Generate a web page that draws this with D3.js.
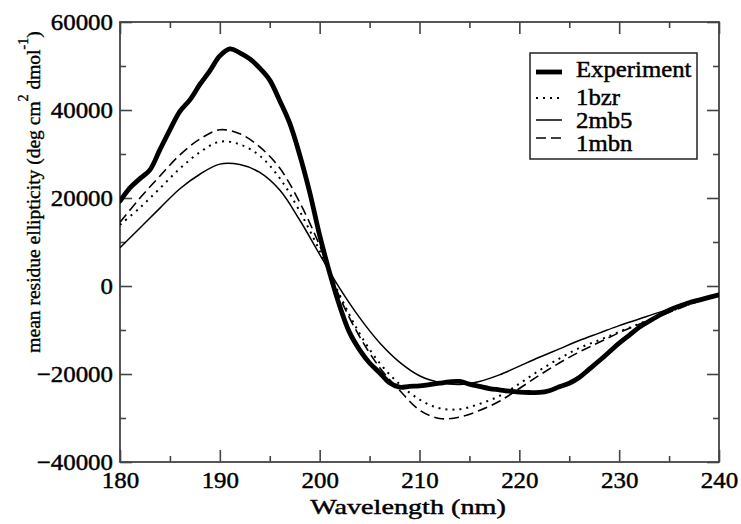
<!DOCTYPE html>
<html>
<head>
<meta charset="utf-8">
<script src="https://cdn.jsdelivr.net/npm/d3@7"></script>
<style>
  body { margin: 0; background: #fff; }
</style>
</head>
<body>
<svg id="chart"></svg>
<script>
// Experimental CD spectrum, 1 nm steps
const expWavelength = [180,181,182,183,184,185,186,187,188,189,190,191,192,193,194,195,196,197,198,199,200,
  201,202,203,204,205,206,207,208,209,210,211,212,213,214,215,216,217,218,219,220,
  221,222,223,224,225,226,227,228,229,230,231,232,233,234,235,236,237,238,239,240];
const expValues = [19300,22300,24400,26400,31000,35500,39700,42300,45800,48900,52300,53900,53000,51600,49500,46800,42100,37000,29800,21300,11500,
  3000,-4500,-10600,-14500,-17500,-19700,-22000,-23000,-22800,-22700,-22400,-22100,-21800,-21700,-22300,-22800,-23300,-23600,-23900,-24100,
  -24200,-24200,-23800,-22900,-22100,-20800,-18900,-17000,-15000,-13000,-11200,-9400,-8000,-6700,-5500,-4600,-3800,-3200,-2600,-2000];

// Calculated spectra, 2 nm steps
const modelWavelength = [180,182,184,186,188,190,192,194,196,198,200,202,204,206,208,210,
  212,214,216,218,220,222,224,226,228,230,232,234,236,238,240];
const bzrValues = [13900,17800,22200,26700,30400,32800,32200,29600,24500,17000,8000,-2000,-10800,-17500,-22300,-25800,
  -27800,-28000,-26800,-25000,-22200,-19200,-16500,-14100,-12300,-10400,-8600,-6800,-5000,-3400,-2000];
const mb5Values = [8700,13200,17700,22100,25400,27700,27600,25800,21800,15000,7200,-500,-7200,-12900,-17300,-20400,
  -21900,-22400,-21700,-20200,-18200,-16200,-14300,-12400,-10700,-9000,-7500,-6000,-4600,-3300,-2000];
const mbnValues = [14500,20000,25000,29800,33400,35500,34600,31600,26800,19000,9200,-2500,-11500,-18500,-23700,-28200,
  -30100,-29800,-28300,-26200,-23300,-20300,-17500,-15000,-12800,-10600,-8700,-6900,-5100,-3400,-2000];

const seriesNames = ["Experiment", "1bzr", "2mb5", "1mbn"];

const xTicks = [180, 190, 200, 210, 220, 230, 240];
const xMinor = [185, 195, 205, 215, 225, 235];
const yTicks = [-40000, -20000, 0, 20000, 40000, 60000];
const yMinor = [-30000, -10000, 10000, 30000, 50000];

const width = 741, height = 524;
const margin = { top: 22, right: 22, bottom: 62, left: 120 };
const plotW = width - margin.left - margin.right;
const plotH = height - margin.top - margin.bottom;
const serif = '"Liberation Serif", "Times New Roman", Times, "DejaVu Serif", serif';

const svg = d3.select("#chart").attr("width", width).attr("height", height)
  .style("font-family", serif);
const g = svg.append("g").attr("transform", `translate(${margin.left},${margin.top})`);

const x = d3.scaleLinear().domain([180, 240]).range([0, plotW]);
const y = d3.scaleLinear().domain([-40000, 60000]).range([plotH, 0]);

// stretch text a bit horizontally and thicken it, like the original
function widen(sel, k) {
  sel.each(function () {
    const len = this.getComputedTextLength();
    this.setAttribute("textLength", len * k);
    this.setAttribute("lengthAdjust", "spacingAndGlyphs");
  });
  sel.attr("stroke", "#000").attr("stroke-width", 0.45);
}

const axisColor = "#444";

function styleAxis(sel) {
  sel.select(".domain").remove();
  sel.selectAll("line").attr("stroke", axisColor).attr("stroke-width", 1.6);
}

// major + minor ticks on all four sides, pointing inward
const bottom = g.append("g").attr("transform", `translate(0,${plotH})`)
  .call(d3.axisBottom(x).tickValues(xTicks).tickSize(-12).tickPadding(9).tickFormat(d3.format("d")));
g.append("g").attr("transform", `translate(0,${plotH})`)
  .call(d3.axisBottom(x).tickValues(xMinor).tickSize(-6).tickFormat("")).call(styleAxis);
g.append("g").call(d3.axisTop(x).tickValues(xTicks).tickSize(-12).tickFormat("")).call(styleAxis);
g.append("g").call(d3.axisTop(x).tickValues(xMinor).tickSize(-6).tickFormat("")).call(styleAxis);

const left = g.append("g")
  .call(d3.axisLeft(y).tickValues(yTicks).tickSize(-12).tickPadding(7).tickFormat(d3.format("d")));
g.append("g").call(d3.axisLeft(y).tickValues(yMinor).tickSize(-6).tickFormat("")).call(styleAxis);
g.append("g").attr("transform", `translate(${plotW},0)`)
  .call(d3.axisRight(y).tickValues(yTicks).tickSize(-12).tickFormat("")).call(styleAxis);
g.append("g").attr("transform", `translate(${plotW},0)`)
  .call(d3.axisRight(y).tickValues(yMinor).tickSize(-6).tickFormat("")).call(styleAxis);

[bottom, left].forEach(a => {
  a.call(styleAxis);
  a.attr("font-family", null).attr("font-size", null);
  a.selectAll("text").style("font-family", serif).style("font-size", "23.5px").attr("fill", "#000");
  widen(a.selectAll("text"), 1.06);
});

// frame
g.append("rect").attr("width", plotW).attr("height", plotH)
  .attr("fill", "none").attr("stroke", axisColor).attr("stroke-width", 1.8);

// curves
const expLine = d3.line()
  .x((d, i) => x(expWavelength[i]))
  .y(d => y(d))
  .curve(d3.curveCatmullRom.alpha(0.5));
const modelLine = d3.line()
  .x((d, i) => x(modelWavelength[i]))
  .y(d => y(d))
  .curve(d3.curveCatmullRom.alpha(0.5));

const styles = {
  "Experiment": { w: 4.8, dash: null },
  "1bzr": { w: 2, dash: "2,5" },
  "2mb5": { w: 1.5, dash: null },
  "1mbn": { w: 1.6, dash: "10,5" }
};

svg.append("defs").append("clipPath").attr("id", "clip")
  .append("rect").attr("width", plotW).attr("height", plotH);

const curves = g.append("g").attr("clip-path", "url(#clip)");
[["2mb5", mb5Values], ["1bzr", bzrValues], ["1mbn", mbnValues]].forEach(([name, vals]) => {
  curves.append("path").datum(vals)
    .attr("d", modelLine)
    .attr("fill", "none").attr("stroke", "#000")
    .attr("stroke-width", styles[name].w)
    .attr("stroke-dasharray", styles[name].dash);
});
curves.append("path").datum(expValues)
  .attr("d", expLine)
  .attr("fill", "none").attr("stroke", "#000")
  .attr("stroke-width", styles["Experiment"].w)
  .attr("stroke-linejoin", "round").attr("stroke-linecap", "round");

// legend
const legend = svg.append("g");
legend.append("rect").attr("x", 530).attr("y", 53).attr("width", 167).attr("height", 106)
  .attr("fill", "#fff").attr("stroke", "#222").attr("stroke-width", 1.5);
const lineY = [72, 98, 120, 138];
const textY = [77, 105, 128, 151];
seriesNames.forEach((name, i) => {
  legend.append("line")
    .attr("x1", 536).attr("x2", 562).attr("y1", lineY[i]).attr("y2", lineY[i])
    .attr("stroke", "#000").attr("stroke-width", styles[name].w)
    .attr("stroke-dasharray", styles[name].dash);
  legend.append("text").attr("x", 576).attr("y", textY[i])
    .style("font-family", serif).style("font-size", "22.5px").text(name);
});
widen(legend.selectAll("text"), 1.1);

// axis titles
const xt = svg.append("text")
  .attr("x", 408).attr("y", 514).attr("text-anchor", "middle")
  .style("font-family", serif).style("font-size", "22px").text("Wavelength (nm)");
widen(xt, 1.28);

const yt = svg.append("text")
  .attr("transform", "translate(40,192) rotate(-90)")
  .attr("text-anchor", "middle")
  .style("font-family", serif).style("font-size", "19.5px")
  .attr("stroke", "#000").attr("stroke-width", 0.35);
yt.append("tspan").text("mean residue ellipticity (deg cm");
yt.append("tspan").attr("dy", -12).style("font-size", "14px").text("2");
yt.append("tspan").attr("dy", 12).text(" dmol");
yt.append("tspan").attr("dy", -12).style("font-size", "14px").text("-1");
yt.append("tspan").attr("dy", 12).text(")");
</script>
</body>
</html>
